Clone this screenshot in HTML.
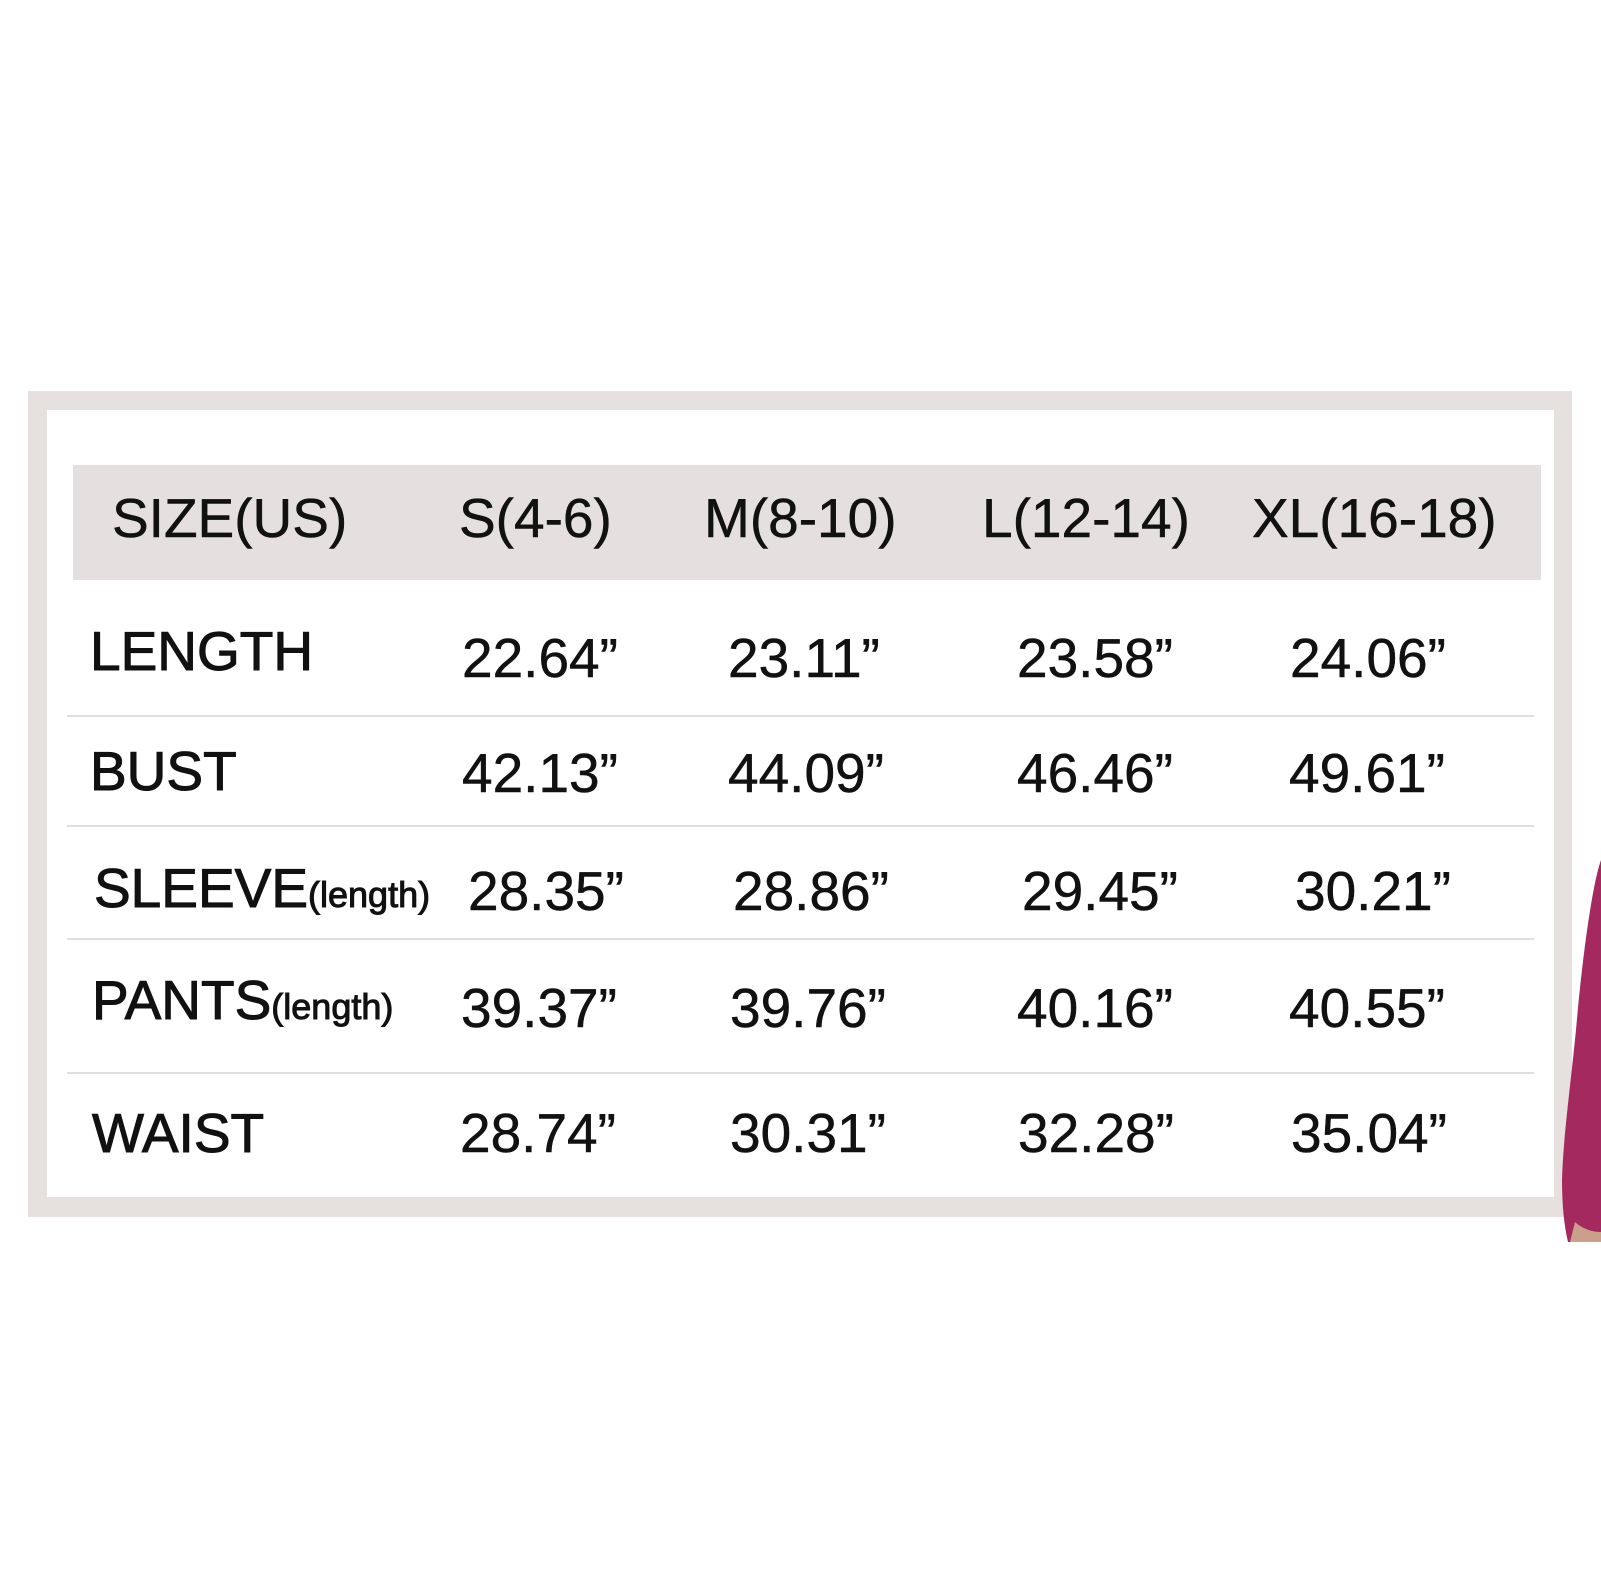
<!DOCTYPE html>
<html><head><meta charset="utf-8">
<style>
html,body{margin:0;padding:0;background:#fff;}
#root{position:relative;width:1601px;height:1569px;overflow:hidden;background:#fff;font-family:"Liberation Sans",Arial,sans-serif;color:#111;}
.abs{position:absolute;}
.t{position:absolute;white-space:nowrap;font-size:55px;line-height:1;-webkit-text-stroke:0.5px #111;}
.sm{font-size:36px;}
</style></head>
<body>
<div id="root">
  <div class="abs" style="left:28px;top:391px;width:1544px;height:826px;background:#e6e1df;"></div>
  <div class="abs" style="left:47px;top:410px;width:1507px;height:787px;background:#fff;"></div>
  <div class="abs" style="left:73px;top:465px;width:1468px;height:115px;background:#e5e0df;"></div>
  <svg class="abs" style="left:0;top:0;z-index:2" width="1601" height="1569">
    <path d="M1601 860 C1592 885 1582 960 1576 1030 C1570 1090 1563 1140 1562 1180 C1562 1205 1564 1225 1568 1242 L1601 1242 Z" fill="#a3295f"/>
    <path d="M1575 1222 C1584 1230 1594 1232 1601 1232 L1601 1242 L1570 1242 Z" fill="#c9a08a"/>
  </svg>
</div>
<script>
const headers = ["SIZE(US)","S(4-6)","M(8-10)","L(12-14)","XL(16-18)"];
const rowLabels = ["LENGTH","BUST","SLEEVE","PANTS","WAIST"];
const rowSuffix = ["","","(length)","(length)",""];
const lengthVals = ["22.64”","23.11”","23.58”","24.06”"];
const bustVals = ["42.13”","44.09”","46.46”","49.61”"];
const sleeveVals = ["28.35”","28.86”","29.45”","30.21”"];
const pantsVals = ["39.37”","39.76”","40.16”","40.55”"];
const waistVals = ["28.74”","30.31”","32.28”","35.04”"];
const values = [lengthVals,bustVals,sleeveVals,pantsVals,waistVals];

const root = document.getElementById('root');
const hx = [112,459,704,982,1252];
const labelX = [90,90,94,92,92];
const labelBase = [674,794,911,1023,1156];
const valBase = [681,796,914,1031,1156];
const valX = [[462,728,1017,1290],[462,728,1017,1289],[468,733,1022,1295],[461,730,1017,1289],[460,730,1018,1291]];
const lineY = [715,825,938,1072];

function addText(txt,x,base,name,cls){
  const d=document.createElement('div');
  d.className='t'+(cls?' '+cls:'');
  d.textContent=txt;
  d.style.left=x+'px';
  const fs = cls==='sm'?36:55;
  d.style.top=(base-0.905*fs)+'px';
  
  
  root.appendChild(d);
  return d;
}
headers.forEach((h,i)=>{ addText(h,hx[i],541,'header-'+i); });
rowLabels.forEach((l,r)=>{
  const d=addText(l,labelX[r],labelBase[r],'row-label-'+l.toLowerCase());
  d.style.webkitTextStroke='1px #111';
  if(rowSuffix[r]){
    const s=document.createElement('span');
    s.className='sm';
    s.textContent=rowSuffix[r];
    
    
    d.appendChild(s);
  }
  values[r].forEach((v,c)=>{ addText(v,valX[r][c],valBase[r],'value-'+l.toLowerCase()+'-'+c); });
});
lineY.forEach((y,i)=>{
  const d=document.createElement('div');
  d.className='abs';
  d.style.cssText='left:67px;top:'+y+'px;width:1467px;height:2px;background:#e2dedd;';
  
  
  root.appendChild(d);
});
</script>
</body></html>
